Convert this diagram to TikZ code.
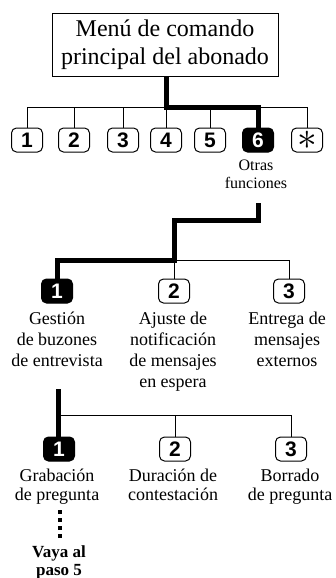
\documentclass[tikz,border=0pt]{standalone}
\usepackage{fontspec}
\setmainfont{Liberation Serif}
\newfontfamily\keyfamily{Liberation Sans}
\begin{document}
\begin{tikzpicture}[x=1pt,y=-1pt,
  key/.style={draw, line width=1pt, rounded corners=5pt, minimum width=31pt, minimum height=24pt, inner sep=0pt, font=\keyfamily\bfseries\fontsize{21}{21}\selectfont},
  keysel/.style={key, fill=black, text=white},
  lbl/.style={align=center, inner sep=0pt, anchor=base, font=\fontsize{18}{21}\selectfont},
  lblb/.style={align=center, inner sep=0pt, anchor=base, font=\fontsize{18}{18.5}\selectfont},
  thinln/.style={line width=1pt},
  thickln/.style={line width=5pt, line join=miter}]
\useasboundingbox (0,0) rectangle (336,578);
% menu box
\node[draw, line width=1pt, minimum width=226pt, minimum height=62pt, inner sep=0pt, align=center,
  font=\fontsize{24}{28}\selectfont] (menu) at (165,45) {Menú de comando\\principal del abonado};
% row 1 keys
\node[key] (k1) at (27,140) {1};
\node[key] (k2) at (74,140) {2};
\node[key] (k3) at (123,140) {3};
\node[key] (k4) at (166,140) {4};
\node[key] (k5) at (210,140) {5};
\node[keysel] (k6) at (258,140) {6};
\node[key] (ks) at (307,140) {\scalebox{1.9}{$\ast$}};
\node[align=center, inner sep=0pt, anchor=base, font=\fontsize{16}{18}\selectfont] (otras) at (256,188) {Otras\\funciones};
\coordinate (bus1) at (0,107);
\draw[thinln] (k1.north) -- (k1.north |- bus1) -- (ks.north |- bus1) -- (ks.north);
\foreach \k in {k2,k3,k4,k5} \draw[thinln] (\k.north) -- (\k.north |- bus1);
\draw[thickln] (k4.north |- menu.south) -- (k4.north |- bus1) -- (k6.north |- bus1) -- (k6.north);
% row 2
\node[keysel] (b1) at (57,291) {1};
\node[key] (b2) at (174,291) {2};
\node[key] (b3) at (289,291) {3};
\node[lbl] (lb1) at (57,366) {Gestión\\de buzones\\de entrevista};
\node[lbl] (lb2) at (173,387) {Ajuste de\\notificación\\de mensajes\\en espera};
\node[lbl] (lb3) at (287,366) {Entrega de\\mensajes\\externos};
\coordinate (t2) at (258,203);
\coordinate (m2) at (0,220);
\coordinate (bus2) at (0,260);
\draw[thinln] (b2.north) -- (b2.north |- bus2) -- (b3.north |- bus2) -- (b3.north);
\draw[thickln] (t2) -- (t2 |- m2) -- (b2.north |- m2) -- (b2.north |- bus2) -- (b1.north |- bus2) -- (b1.north);
% row 3
\node[keysel] (c1) at (59,449) {1};
\node[key] (c2) at (175,449) {2};
\node[key] (c3) at (291,449) {3};
\node[lblb] (lc1) at (57,500) {Grabación\\de pregunta};
\node[lblb] (lc2) at (173,500) {Duración de\\contestación};
\node[lblb] (lc3) at (290,500) {Borrado\\de pregunta};
\coordinate (t3) at (58,389);
\coordinate (bus3) at (0,415);
\draw[thickln] (t3) -- (t3 |- c1.north);
\draw[thinln] (t3 |- bus3) -- (c3.north |- bus3) -- (c3.north);
\draw[thinln] (c2.north) -- (c2.north |- bus3);
% dotted continuation
\coordinate (d1) at (60,510);
\coordinate (d2) at (60,540);
\draw[line width=3.5pt, dash pattern=on 4pt off 4pt] (d1) -- (d2);
\node[align=center, inner sep=0pt, anchor=base, font=\bfseries\fontsize{17}{18}\selectfont] (vaya) at (59,575) {Vaya al\\paso 5};
\end{tikzpicture}
\end{document}
